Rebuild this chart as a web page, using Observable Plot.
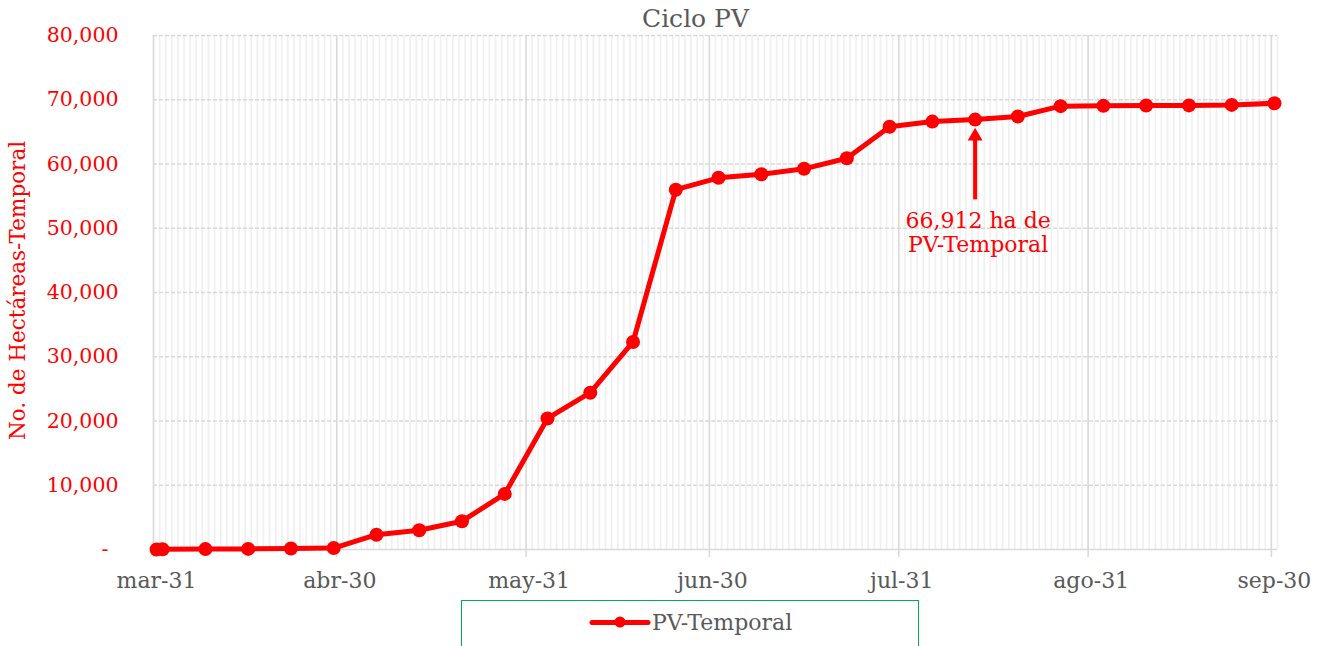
<!DOCTYPE html>
<html><head><meta charset="utf-8">
<script src="https://cdn.jsdelivr.net/npm/d3@7"></script>
<script src="https://cdn.jsdelivr.net/npm/@observablehq/plot@0.6"></script>
<style>
html,body{margin:0;padding:0;background:#fff;overflow:hidden;}
#wrap{position:relative;width:1322px;height:646px;font-family:"DejaVu Serif",serif;}
#legend{position:absolute;left:461px;top:600px;width:458px;height:70px;border:1.5px solid #00b050;box-sizing:border-box;}
</style></head><body><div id="wrap"></div>
<script>
// ---- data ----
const dates = ["2023-03-31","2023-04-01","2023-04-08","2023-04-15","2023-04-22","2023-04-29",
  "2023-05-06","2023-05-13","2023-05-20","2023-05-27","2023-06-03","2023-06-10","2023-06-17",
  "2023-06-24","2023-07-01","2023-07-08","2023-07-15","2023-07-22","2023-07-29","2023-08-05",
  "2023-08-12","2023-08-19","2023-08-26","2023-09-02","2023-09-09","2023-09-16","2023-09-23","2023-09-30"];
const values = [0, 20, 60, 90, 150, 220,
  2300, 3000, 4400, 8650, 20400, 24400, 32300,
  56000, 57850, 58400, 59250, 60900, 65800, 66600,
  66912, 67400, 69000, 69050, 69100, 69120, 69200, 69450];
const monthTickDates = ["2023-03-31","2023-04-30","2023-05-31","2023-06-30","2023-07-31","2023-08-31","2023-09-30"];
const monthTickLabels = ["mar-31","abr-30","may-31","jun-30","jul-31","ago-31","sep-30"];
const yTicks = [0,10000,20000,30000,40000,50000,60000,70000,80000];
const yTickLabels = ["-","10,000","20,000","30,000","40,000","50,000","60,000","70,000","80,000"];
const title = "Ciclo PV";
const yLabel = "No. de Hectáreas-Temporal";
const seriesName = "PV-Temporal";
const annotDate = "2023-08-12";
const annotValue = 66912;
const annotLines = ["66,912 ha de", "PV-Temporal"];

// ---- helpers ----
const HALF = 12 * 3600 * 1000;
const parse = s => new Date(s + "T00:00:00Z");
const mid = s => new Date(+parse(s) + HALF);   // dates sit in the middle of their day slot
const data = dates.map((d, i) => ({date: mid(d), value: values[i]}));
const x0 = parse(monthTickDates[0]);
const x1 = d3.utcDay.offset(parse(monthTickDates[monthTickDates.length - 1]), 1);
const days = d3.utcDay.range(x0, d3.utcDay.offset(x1, 1));
const ytk = yTicks.map((v, i) => ({v, label: yTickLabels[i]}));
const FONT = '"DejaVu Serif", serif';
const annot = {date: mid(annotDate), value: annotValue};

const chart = Plot.plot({
  width: 1322, height: 646,
  marginTop: 35, marginLeft: 153, marginRight: 45, marginBottom: 97,
  style: {fontFamily: FONT, background: "transparent", overflow: "visible"},
  x: {type: "utc", domain: [x0, x1], axis: null},
  y: {domain: [0, 80000], axis: null},
  marks: [
    Plot.ruleX(days, {stroke: "#efefef", strokeWidth: 1.6}),
    Plot.ruleY(yTicks.filter(v => v !== 0), {stroke: "#d9d9d9", strokeWidth: 1.5, strokeDasharray: "4,2"}),
    Plot.ruleY([0], {stroke: "#d9d9d9", strokeWidth: 1.5}),
    Plot.ruleX(monthTickDates.map(parse), {stroke: "#d9d9d9", strokeWidth: 1.5, insetBottom: -8}),
    Plot.text(monthTickDates, {x: d => mid(d), text: (d, i) => monthTickLabels[i], frameAnchor: "bottom", dy: 38, fill: "#595959", fontSize: 22}),
    Plot.text(ytk.filter(d => d.v !== 0), {y: "v", text: "label", frameAnchor: "left", textAnchor: "end", dx: -35, fill: "#ff0000", fontSize: 20.5}),
    Plot.text(ytk.filter(d => d.v === 0), {y: "v", text: "label", frameAnchor: "left", textAnchor: "end", dx: -45, fill: "#ff0000", fontSize: 20.5}),
    Plot.text([yLabel], {frameAnchor: "left", textAnchor: "middle", lineAnchor: "middle", rotate: -90, dx: -135, dy: -2, fill: "#ff0000", fontSize: 21.5}),
    Plot.text([title], {frameAnchor: "top", lineAnchor: "middle", dx: -20, dy: -17, fill: "#595959", fontSize: 25}),
    Plot.line(data, {x: "date", y: "value", stroke: "#ff0000", strokeWidth: 5}),
    Plot.dot(data, {x: "date", y: "value", r: 7, fill: "#ff0000"}),
    // annotation
    Plot.ruleX([annot], {x: "date", y1: d => d.value - 12500, y2: d => d.value - 3000, stroke: "#ff0000", strokeWidth: 4}),
    Plot.dot([annot], {x: "date", y: d => d.value - 2600, symbol: "triangle", r: 5.5, fill: "#ff0000", stroke: "none"}),
    Plot.text([annot], {x: "date", y: "value", text: () => annotLines.join("\n"), lineAnchor: "top", dx: 3, dy: 91, lineHeight: 1.1, fill: "#ff0000", fontSize: 22})
  ]
});
const wrap = document.getElementById("wrap");
wrap.appendChild(chart);

// legend
const leg = document.createElement("div");
leg.id = "legend";
leg.innerHTML = `<svg width="458" height="60" style="position:absolute;left:-1.5px;top:-1.5px;font-family:${FONT.replace(/"/g, "'")}">
  <line x1="131" x2="187" y1="22.5" y2="22.5" stroke="#ff0000" stroke-width="5" stroke-linecap="round"/>
  <circle cx="159" cy="22" r="5.5" fill="#ff0000"/>
  <text x="191" y="22.5" dy="0.35em" font-size="22" fill="#595959">${seriesName}</text>
</svg>`;
wrap.appendChild(leg);
</script>
</body></html>
